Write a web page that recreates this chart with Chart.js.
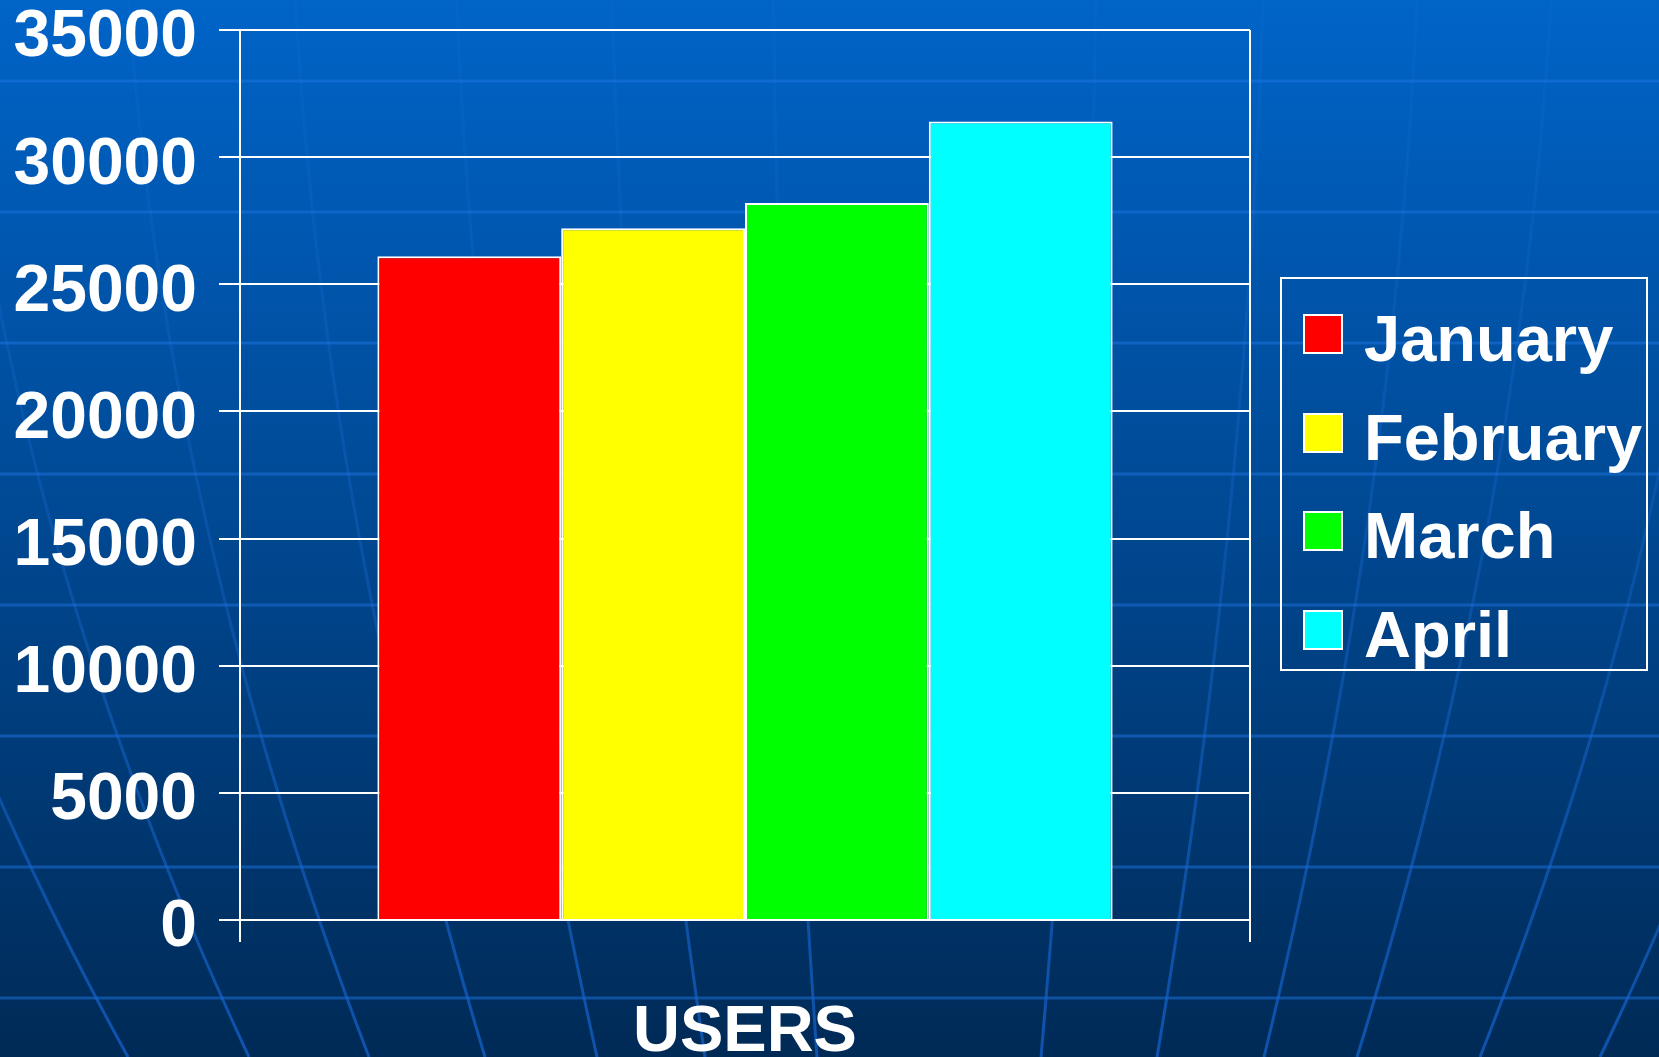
<!DOCTYPE html>
<html>
<head>
<meta charset="utf-8">
<script src="https://cdn.jsdelivr.net/npm/chart.js@4"></script>
<style>
  html, body { margin: 0; padding: 0; overflow: hidden; }
  body { width: 1659px; height: 1057px; background: #00478f; font-family: "Liberation Sans", Arial, sans-serif; }
  #wrap { position: relative; width: 1659px; height: 1057px; }
  #legend {
    position: absolute; left: 1280px; top: 277px; width: 364px; height: 390px;
    border: 2px solid #fff;
  }
  .row { position: absolute; left: 0; height: 40px; }
  .sw { position: absolute; left: 21px; top: 0; width: 36px; height: 36px; border: 2px solid #fff; }
  .txt {
    position: absolute; left: 82px; top: 5px; line-height: 40px; white-space: nowrap;
    color: #fff; font-weight: bold; font-size: 65px;
  }
</style>
</head>
<body>
<div id="wrap">
  <canvas id="chart"></canvas>
  <div id="legend"></div>
</div>
<script>
const categories = ['USERS'];
const months = ['January', 'February', 'March', 'April'];
const users = [26100, 27200, 28200, 31400];
const colors = ['#ff0000', '#ffff00', '#00ff00', '#00ffff'];
const yTicks = [0, 5000, 10000, 15000, 20000, 25000, 30000, 35000];

const FONT = '"Liberation Sans", Arial, sans-serif';

// legend box on the right
const legend = document.getElementById('legend');
const rowCenters = [55, 154, 252, 351];
months.forEach((m, i) => {
  const row = document.createElement('div');
  row.className = 'row';
  row.style.top = (rowCenters[i] - 20) + 'px';
  row.innerHTML = '<div class="sw" style="background:' + colors[i] + '"></div><span class="txt">' + m + '</span>';
  legend.appendChild(row);
});

// blue globe-style background
const backdrop = {
  id: 'backdrop',
  beforeDraw(chart) {
    const ctx = chart.ctx;
    const w = chart.width, h = chart.height;
    ctx.save();
    const g = ctx.createLinearGradient(0, 0, 0, h);
    g.addColorStop(0, '#0064c8');
    g.addColorStop(0.5, '#004892');
    g.addColorStop(1, '#002a56');
    ctx.fillStyle = g;
    ctx.fillRect(0, 0, w, h);

    ctx.strokeStyle = 'rgba(30, 115, 225, 0.5)';
    ctx.lineWidth = 3;
    for (let y = 81; y < h; y += 131) {
      ctx.beginPath();
      ctx.moveTo(0, y);
      ctx.lineTo(w, y);
      ctx.stroke();
    }
    // meridians: clear near the bottom, fading out towards the top
    const fade = ctx.createLinearGradient(0, 0, 0, h);
    fade.addColorStop(0, 'rgba(40, 120, 230, 0.08)');
    fade.addColorStop(0.55, 'rgba(30, 110, 220, 0.3)');
    fade.addColorStop(1, 'rgba(20, 100, 210, 0.7)');
    ctx.strokeStyle = fade;
    const feet = [128, 249, 369, 485, 597, 705, 817, 1041, 1157, 1264, 1357, 1480, 1600];
    feet.forEach(xb => {
      ctx.beginPath();
      for (let y = h; y >= 0; y -= 8) {
        const t = (h - y) / h;
        const x = xb + (xb - 916) * (0.74 * t - 0.3 * t * t);
        if (y === h) ctx.moveTo(x, y); else ctx.lineTo(x, y);
      }
      ctx.stroke();
    });
    ctx.restore();
  }
};

const datasets = months.map((m, i) => ({
  label: m,
  data: [users[i]],
  backgroundColor: colors[i],
  borderColor: '#ffffff',
  borderWidth: 2,
  barPercentage: 1,
  categoryPercentage: 0.728
}));

new Chart(document.getElementById('chart'), {
  type: 'bar',
  data: { labels: categories, datasets },
  plugins: [backdrop],
  options: {
    responsive: true,
    maintainAspectRatio: false,
    animation: false,
    layout: { padding: { top: 30, right: 409, left: 0, bottom: 0 } },
    plugins: { legend: { display: false }, tooltip: { enabled: false } },
    scales: {
      x: {
        offset: true,
        grid: { offset: true, color: '#ffffff', lineWidth: 2, tickLength: 22, drawOnChartArea: true },
        border: { display: true, color: '#ffffff', width: 2 },
        ticks: { color: '#ffffff', padding: 52, font: { family: FONT, size: 65, weight: 'bold' } },
        afterFit(scale) { scale.height = 137; }
      },
      y: {
        min: 0,
        max: 35000,
        afterBuildTicks(scale) { scale.ticks = yTicks.map(v => ({ value: v })); },
        grid: { color: '#ffffff', lineWidth: 2, tickLength: 21 },
        border: { display: true, color: '#ffffff', width: 2 },
        ticks: {
          color: '#ffffff', padding: 22,
          // small empty first line nudges the number a few px below its gridline, as in the original
          font: { family: FONT, size: 66, weight: 'bold', lineHeight: 0.25 },
          callback: v => ['', String(v)]
        },
        afterFit(scale) { scale.width = 240; scale.paddingTop = 0; scale.paddingBottom = 0; }
      }
    }
  }
});
</script>
</body>
</html>
